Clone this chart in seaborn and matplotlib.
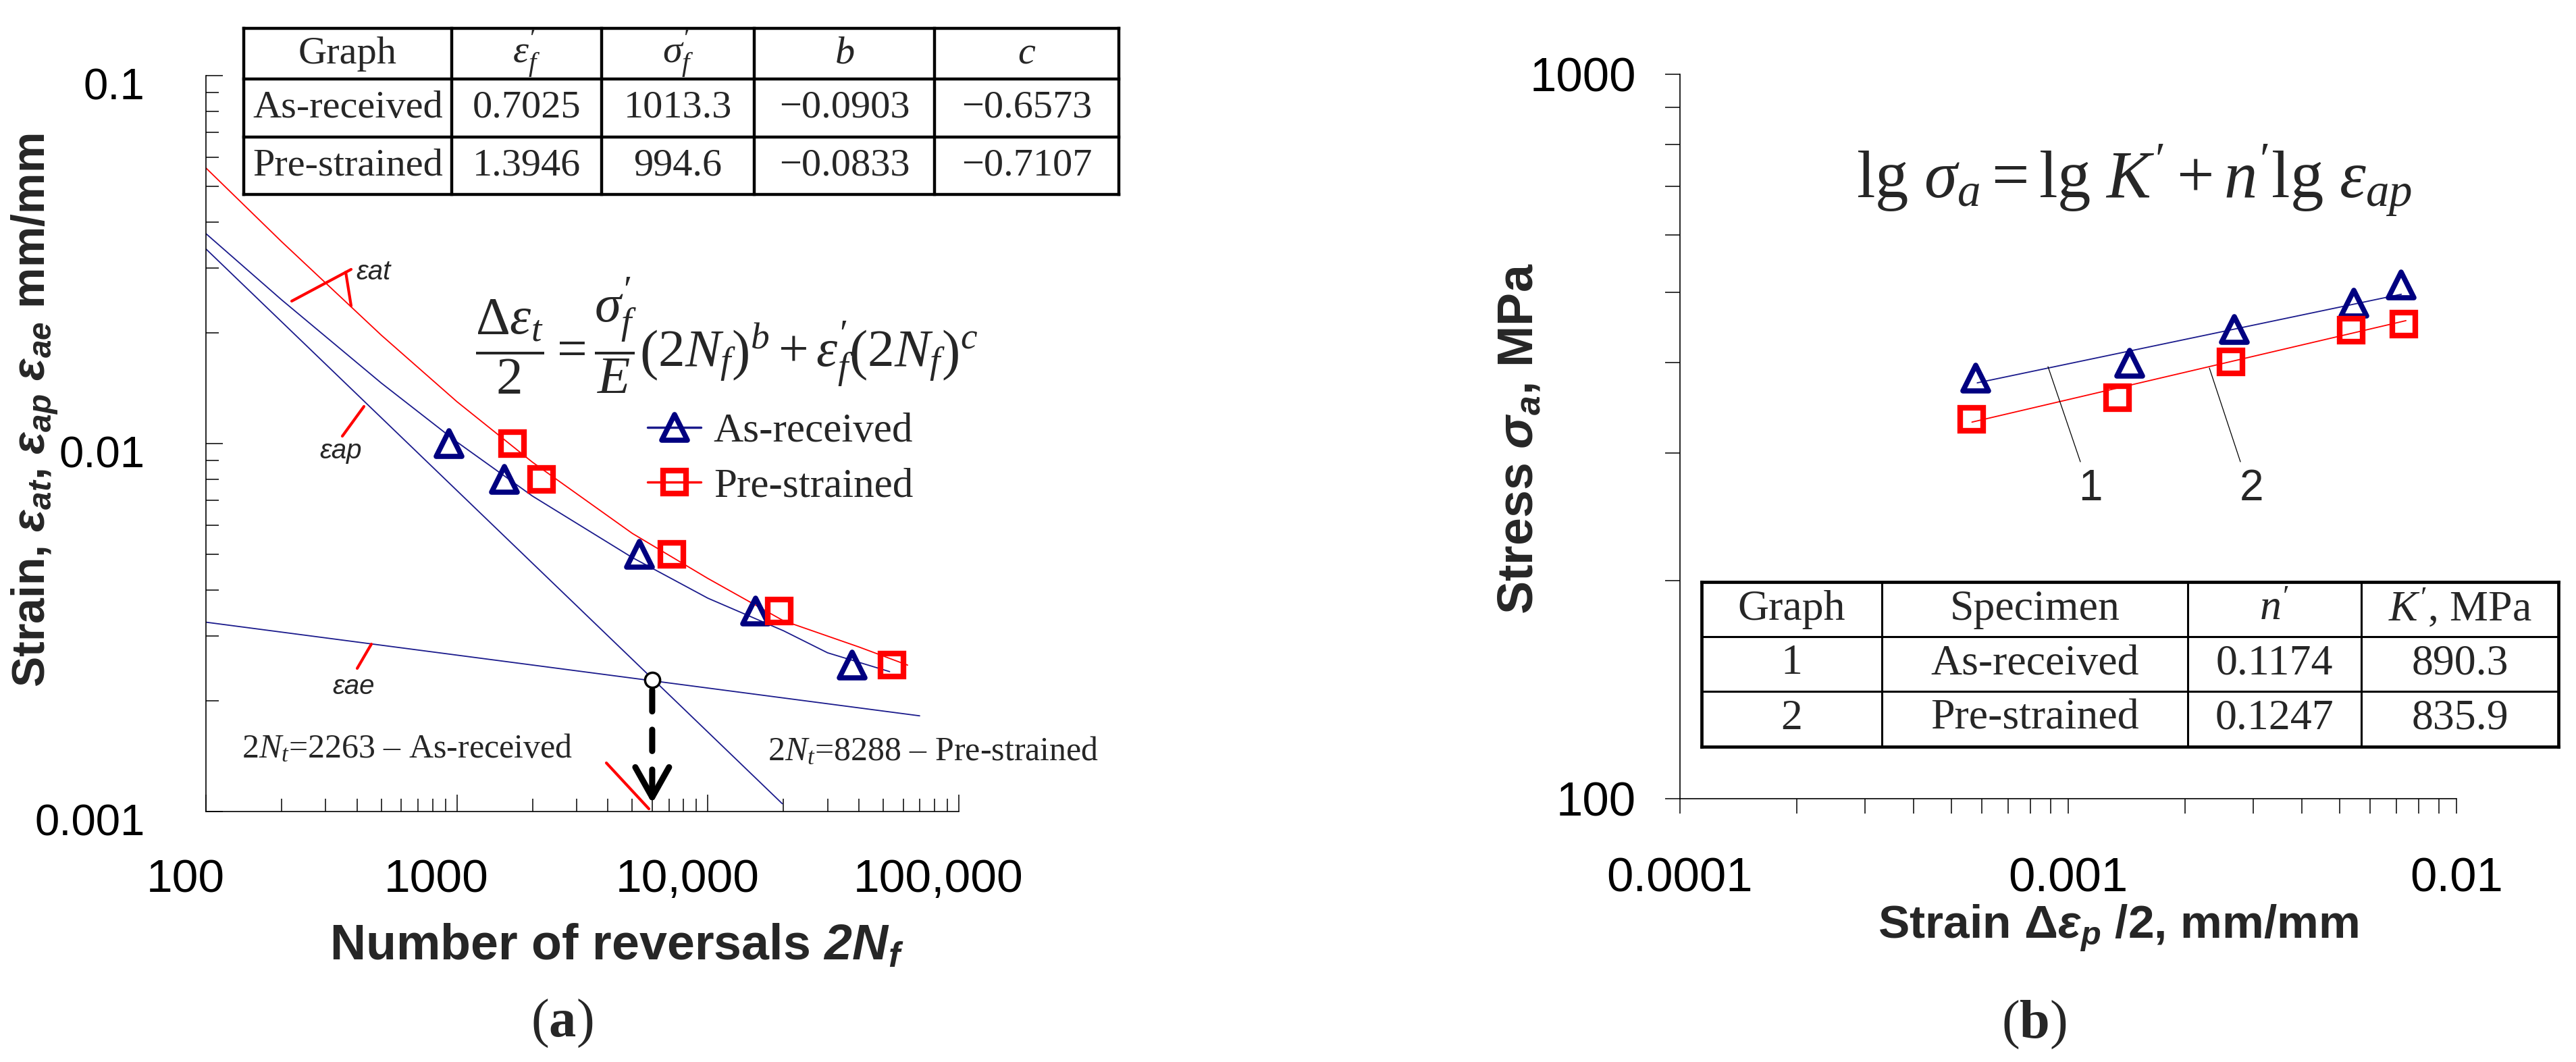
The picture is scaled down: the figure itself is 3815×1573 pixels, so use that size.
import numpy as np
import matplotlib
matplotlib.use("Agg")
import matplotlib.pyplot as plt
import seaborn as sns
from matplotlib.lines import Line2D
from matplotlib.markers import MarkerStyle
from matplotlib.ticker import FixedLocator, FixedFormatter, NullFormatter, LogLocator
from matplotlib.transforms import ScaledTranslation
from matplotlib import font_manager

# ---------------- data: panel (a) ----------------
reversals_as_received = [930, 1550, 5350, 15500, 37500]
strain_as_received = [0.0100, 0.0080, 0.0050, 0.0035, 0.0025]
reversals_pre_strained = [1670, 2170, 7200, 19200, 54000]
strain_pre_strained = [0.0100, 0.0080, 0.0050, 0.0035, 0.0025]

total_ar_N = [100, 200, 500, 1000, 2000, 5000, 10000, 20000, 30000, 53000]
total_ar_e = [0.0372, 0.0246, 0.0146, 0.0101, 0.0072, 0.0049, 0.0038, 0.0031, 0.0027, 0.0024]
total_ps_N = [100, 200, 500, 1000, 2000, 5000, 10000, 20000, 40000, 62500]
total_ps_e = [0.0561, 0.0354, 0.0197, 0.0130, 0.0089, 0.0057, 0.0043, 0.0033, 0.0028, 0.0025]
plastic_ar_N = [100, 19800]
plastic_ar_e = [0.0338, 0.00105]
elastic_ar_N = [100, 69800]
elastic_ar_e = [0.00327, 0.00182]
transition_N = [6000]
transition_e = [0.00228]

a_xticks = [100, 1000, 10000, 100000]
a_xticklabels = ["100", "1000", "10,000", "100,000"]
a_yticks = [0.001, 0.01, 0.1]
a_yticklabels = ["0.001", "0.01", "0.1"]

table_a_header = ["Graph", r"$\varepsilon_f^{\prime}$", r"$\sigma_f^{\prime}$", r"$b$", r"$c$"]
table_a_rows = [["As-received", "0.7025", "1013.3", "\u22120.0903", "\u22120.6573"],
                ["Pre-strained", "1.3946", "994.6", "\u22120.0833", "\u22120.7107"]]

# ---------------- data: panel (b) ----------------
strain_amp_ar = [0.000577, 0.00144, 0.00268, 0.00544, 0.00721]
stress_ar = [381, 399, 444, 483, 512]
strain_amp_ps = [0.000565, 0.00134, 0.00262, 0.00535, 0.00733]
stress_ps = [334, 358, 401, 443, 452]
fit_ar_x = [0.000583, 0.00721]
fit_ar_y = [375, 497]
fit_ps_x = [0.000565, 0.00741]
fit_ps_y = [331, 457]

b_xticks = [0.0001, 0.001, 0.01]
b_xticklabels = ["0.0001", "0.001", "0.01"]
b_yticks = [100, 1000]
b_yticklabels = ["100", "1000"]

table_b_header = ["Graph", "Specimen", r"$n'$", r"$K'$, MPa"]
table_b_rows = [["1", "As-received", "0.1174", "890.3"],
                ["2", "Pre-strained", "0.1247", "835.9"]]

# ---------------- style ----------------
sns.set_theme(style="ticks")
plt.rcParams.update({
    "font.family": ["Liberation Sans", "DejaVu Sans"],
    "mathtext.fontset": "custom",
    "mathtext.rm": "Liberation Serif",
    "mathtext.it": "Liberation Serif:italic",
    "mathtext.bf": "Liberation Serif:bold",
    "mathtext.bfit": "Liberation Sans:italic:bold",
    "mathtext.sf": "Liberation Sans",
    "axes.edgecolor": "black",
    "xtick.color": "black",
    "ytick.color": "black",
    "axes.linewidth": 1.2,
})

W, H, DPI = 3815, 1573, 100
fig = plt.figure(figsize=(W / DPI, H / DPI), dpi=DPI)
fig.patch.set_facecolor("white")

NAVY = "#000080"
LBLUE = "#1a1a8c"
RED = "#ff0000"

tri = MarkerStyle("^", joinstyle="round")
sq = MarkerStyle("s", joinstyle="miter")
TRI_KW = dict(marker=tri, markersize=27, markeredgewidth=5.5, markerfacecolor="none",
              markeredgecolor=NAVY)
SQ_KW = dict(marker=sq, markersize=24, markeredgewidth=6, markerfacecolor="none",
             markeredgecolor=RED)

# ---------------- panel (a) ----------------
axA = fig.add_axes([305 / W, 1 - 1202 / H, (1420 - 305) / W, (1202 - 112) / H])
axA.set_xscale("log")
axA.set_yscale("log")
axA.set_xlim(100, 1e5)
axA.set_ylim(1e-3, 0.1)

for xs, ys, c in [(total_ps_N, total_ps_e, RED), (total_ar_N, total_ar_e, LBLUE),
                  (plastic_ar_N, plastic_ar_e, LBLUE), (elastic_ar_N, elastic_ar_e, LBLUE)]:
    sns.lineplot(x=xs, y=ys, ax=axA, color=c, lw=1.3, estimator=None, sort=False)

sns.lineplot(x=reversals_as_received, y=strain_as_received, ax=axA, ls="none",
             estimator=None, sort=False, **TRI_KW)
sns.lineplot(x=reversals_pre_strained, y=strain_pre_strained, ax=axA, ls="none",
             estimator=None, sort=False, **SQ_KW)
sns.lineplot(x=transition_N, y=transition_e, ax=axA, ls="none", marker="o",
             markersize=16, markeredgewidth=2.5, markerfacecolor="white", markeredgecolor="black",
             estimator=None, sort=False)

# dashed arrow from transition point down to the axis
axA.annotate("", xy=(transition_N[0], 0.081), xytext=(transition_N[0], 0.165),
             xycoords=("data", "axes fraction"), textcoords=("data", "axes fraction"),
             arrowprops=dict(arrowstyle="-", lw=6.5, ls=(0, (3.5, 3.0)), color="black",
                             shrinkA=0, shrinkB=0))
axA.annotate("", xy=(transition_N[0], 0.011), xytext=(transition_N[0], 0.057),
             xycoords=("data", "axes fraction"), textcoords=("data", "axes fraction"),
             arrowprops=dict(arrowstyle="->,head_length=3.2,head_width=1.8", lw=6.5,
                             color="black", shrinkA=0, shrinkB=0, mutation_scale=10))

axA.xaxis.set_major_locator(FixedLocator(a_xticks))
axA.xaxis.set_major_formatter(FixedFormatter(a_xticklabels))
axA.xaxis.set_minor_locator(LogLocator(base=10, subs=np.arange(2, 10)))
axA.xaxis.set_minor_formatter(NullFormatter())
axA.yaxis.set_major_locator(FixedLocator(a_yticks))
axA.yaxis.set_major_formatter(FixedFormatter(a_yticklabels))
axA.yaxis.set_minor_locator(LogLocator(base=10, subs=np.arange(2, 10)))
axA.yaxis.set_minor_formatter(NullFormatter())
axA.tick_params(which="major", direction="in", length=18, width=1.1, bottom=True, left=True)
axA.tick_params(which="minor", direction="in", length=14, width=1.1, bottom=True, left=True)
axA.tick_params(axis="x", which="major", pad=50, labelsize=50)
axA.tick_params(axis="y", which="major", pad=65, labelsize=47)
for s in ["top", "right"]:
    axA.spines[s].set_visible(False)

leg_handles = [
    Line2D([], [], color=LBLUE, lw=2.5, **TRI_KW),
    Line2D([], [], color=RED, lw=2.5, **SQ_KW),
]
axA.legend(leg_handles, ["As-received", "Pre-strained"], loc="center left",
           bbox_to_anchor=(959 / W, 1 - 680 / H), bbox_transform=fig.transFigure,
           frameon=False, prop={"family": "Liberation Serif", "size": 44},
           handlelength=1.3, handletextpad=0.3, labelspacing=0.42, borderpad=0,
           borderaxespad=0, numpoints=1)

# ---------------- panel (b) ----------------
axB = fig.add_axes([2488 / W, 1 - 1183 / H, (3638 - 2488) / W, (1183 - 110) / H])
axB.set_xscale("log")
axB.set_yscale("log")
axB.set_xlim(1e-4, 1e-2)
axB.set_ylim(100, 1000)

sns.lineplot(x=fit_ar_x, y=fit_ar_y, ax=axB, color=LBLUE, lw=1.3, estimator=None, sort=False)
sns.lineplot(x=fit_ps_x, y=fit_ps_y, ax=axB, color=RED, lw=1.3, estimator=None, sort=False)
sns.lineplot(x=strain_amp_ar, y=stress_ar, ax=axB, ls="none", estimator=None, sort=False, **TRI_KW)
sns.lineplot(x=strain_amp_ps, y=stress_ps, ax=axB, ls="none", estimator=None, sort=False, **SQ_KW)

axB.xaxis.set_major_locator(FixedLocator(b_xticks))
axB.xaxis.set_major_formatter(FixedFormatter(b_xticklabels))
axB.xaxis.set_minor_locator(LogLocator(base=10, subs=np.arange(2, 10)))
axB.xaxis.set_minor_formatter(NullFormatter())
axB.yaxis.set_major_locator(FixedLocator(b_yticks))
axB.yaxis.set_major_formatter(FixedFormatter(b_yticklabels))
axB.yaxis.set_minor_locator(LogLocator(base=10, subs=np.arange(2, 10)))
axB.yaxis.set_minor_formatter(NullFormatter())
axB.tick_params(which="both", direction="out", length=16, width=1.1, bottom=True, left=True)
axB.tick_params(axis="x", which="major", pad=46, labelsize=51)
axB.tick_params(axis="y", which="major", pad=31, labelsize=51)
for s in ["top", "right"]:
    axB.spines[s].set_visible(False)

# small offsets of the (a) tick labels, as in the reference
for lbl in axA.xaxis.get_majorticklabels():
    lbl.set_transform(lbl.get_transform() + ScaledTranslation(-0.30, 0, fig.dpi_scale_trans))
for lbl in axA.yaxis.get_majorticklabels():
    lbl.set_transform(lbl.get_transform() + ScaledTranslation(0, -0.12, fig.dpi_scale_trans))

# ---------------- overlay (pixel coordinates) ----------------
ov = fig.add_axes([0, 0, 1, 1], zorder=10)
ov.set_xlim(0, W)
ov.set_ylim(H, 0)
ov.axis("off")
ov.patch.set_alpha(0)

def draw_table(cols, rows, header, body, size, lw_out, lw_in):
    x0, x1 = cols[0], cols[-1]
    y0, y1 = rows[0], rows[-1]
    for i, y in enumerate(rows):
        ov.plot([x0, x1], [y, y], color="black", lw=lw_out if i in (0, len(rows) - 1) else lw_in,
                solid_capstyle="projecting")
    for j, x in enumerate(cols):
        ov.plot([x, x], [y0, y1], color="black", lw=lw_out if j in (0, len(cols) - 1) else lw_in,
                solid_capstyle="projecting")
    for r, row in enumerate([header] + body):
        yc = (rows[r] + rows[r + 1]) / 2
        for c, txt in enumerate(row):
            xc = (cols[c] + cols[c + 1]) / 2
            ov.text(xc, yc, txt, ha="center", va="center", fontsize=size,
                    family="Liberation Serif")

draw_table([361, 669, 891, 1117, 1384, 1657], [42, 117, 203, 288],
           table_a_header, table_a_rows, 42, 3.2, 3.2)
draw_table([2520, 2787, 3240, 3497, 3789], [862, 943, 1024, 1106],
           table_b_header, table_b_rows, 46, 3.4, 2.2)

# equation (a)
ov.text(1076, 497,
        r"$\dfrac{\Delta\varepsilon_t}{2}=\dfrac{\sigma_f^{\prime}}{E}\left(2N_f\right)^b+\varepsilon_f^{\prime}\left(2N_f\right)^c$",
        ha="center", va="center", fontsize=57)
# equation (b)
ov.text(3161, 268, r"$\lg\,\sigma_a=\lg\,K'+n'\lg\,\varepsilon_{ap}$",
        ha="center", va="center", fontsize=71)

# curve labels and red pointers (a)
for (xa, ya, xb, yb) in [(432, 446, 520, 399), (512, 403, 520, 453), (507, 646, 539, 602),
                         (529, 990, 550, 954), (898, 1130, 961, 1198)]:
    ov.plot([xa, xb], [ya, yb], color=RED, lw=3)
ov.text(553, 403, "\u03b5at", ha="center", va="center", fontsize=29, style="italic")
ov.text(505, 668, "\u03b5ap", ha="center", va="center", fontsize=29, style="italic")
ov.text(524, 1017, "\u03b5ae", ha="center", va="center", fontsize=29, style="italic")

ov.text(603, 1110, "2$N_t$=2263 \u2013 As-received",
        ha="center", va="center", fontsize=36, family="Liberation Serif")
ov.text(1137, 1114, "2$N_t$=8288 \u2013 Pre-strained",
        ha="left", va="center", fontsize=36, family="Liberation Serif")

# curve numbers (b)
ov.plot([3033, 3081], [543, 684], color="black", lw=0.9)
ov.plot([3272, 3318], [545, 684], color="black", lw=0.9)
ov.text(3096, 724, "1", ha="center", va="center", fontsize=46)
ov.text(3335, 724, "2", ha="center", va="center", fontsize=46)

# axis titles
ov.text(52, 608, r"Strain, $\mathbfit{\varepsilon_{at}}$, $\mathbfit{\varepsilon_{ap}}$ $\mathbfit{\varepsilon_{ae}}$ mm/mm",
        rotation=90, ha="center", va="center", fontsize=49, fontweight="bold")
ov.text(913, 1401, r"Number of reversals $\mathbfit{2N_f}$",
        ha="center", va="center", fontsize=53, fontweight="bold")
ov.text(2250, 650, r"Stress $\mathbfit{\sigma_a}$, MPa",
        rotation=90, ha="center", va="center", fontsize=53, fontweight="bold")
ov.text(3137, 1374, "Strain \u0394" + r"$\mathbfit{\varepsilon_p}$" + " /2, mm/mm",
        ha="center", va="center", fontsize=50, fontweight="bold")

ov.text(832, 1516, r"($\mathbf{a}$)", ha="center", va="center", fontsize=58,
        family="Liberation Serif")
ov.text(3012, 1518, r"($\mathbf{b}$)", ha="center", va="center", fontsize=58,
        family="Liberation Serif")

fig.savefig("out.png", dpi=DPI)
